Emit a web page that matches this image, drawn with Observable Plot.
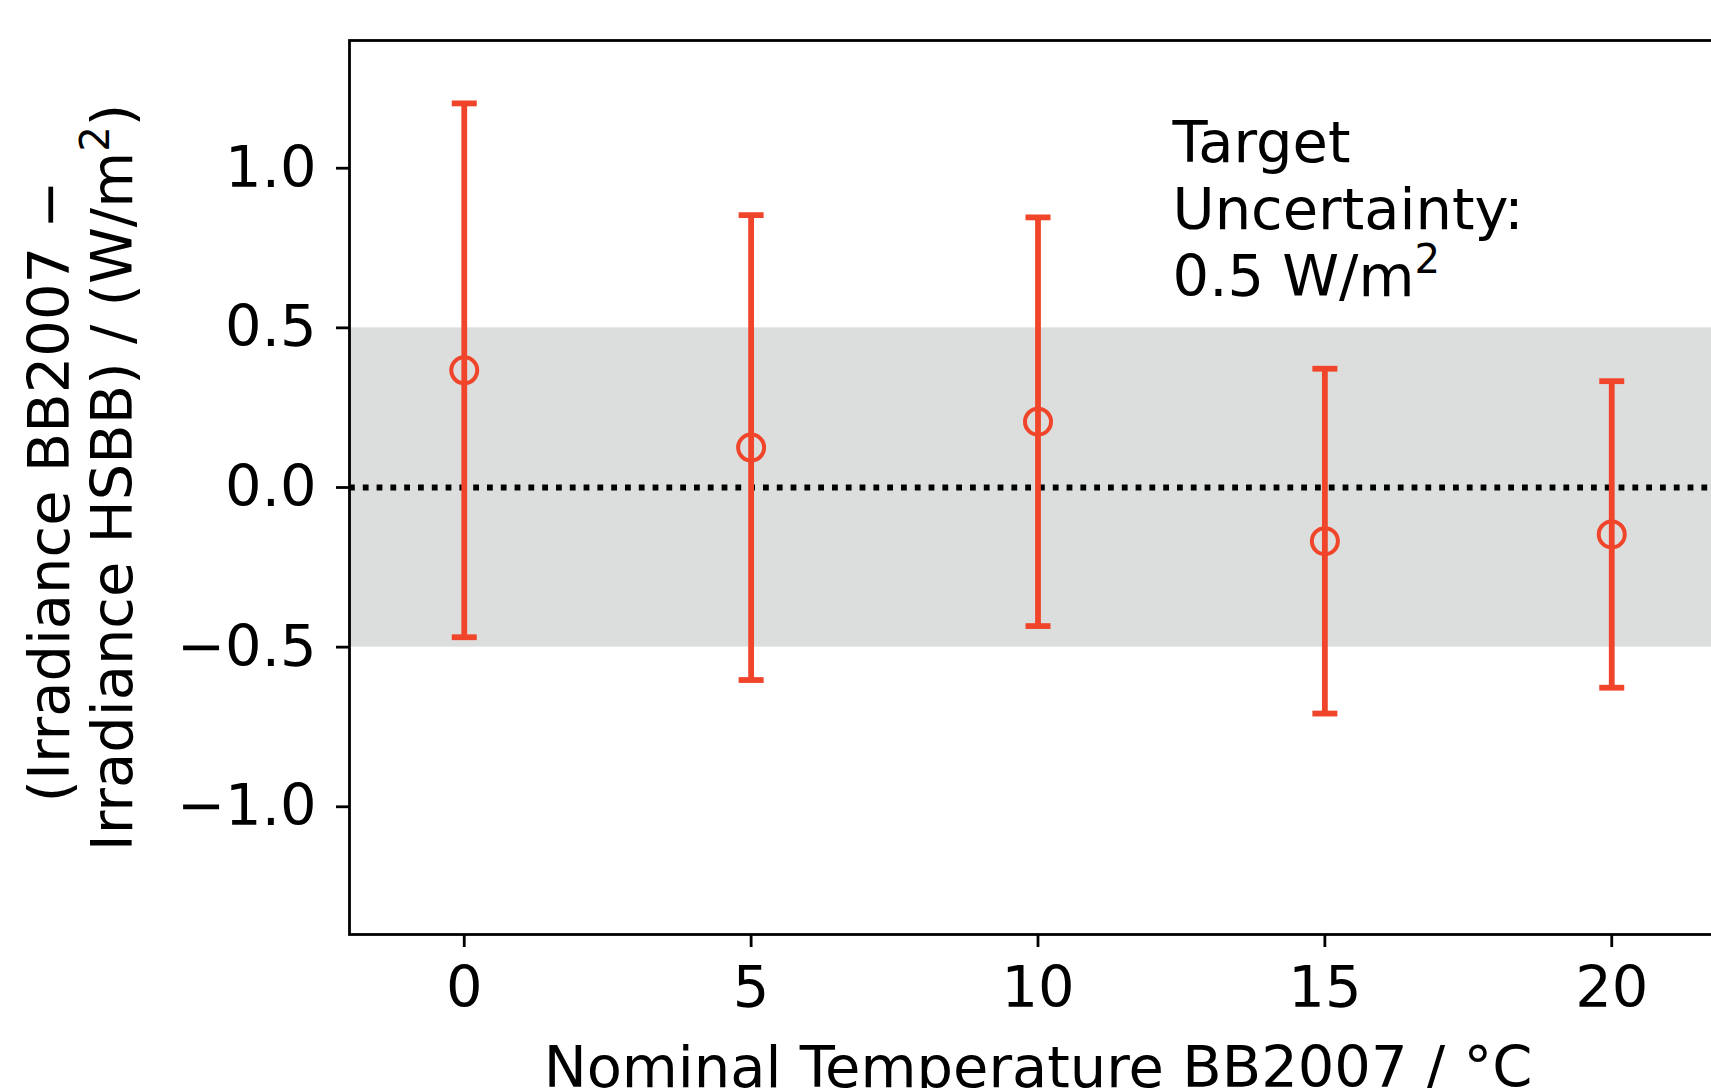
<!DOCTYPE html>
<html>
<head>
<meta charset="utf-8">
<script src="https://cdn.jsdelivr.net/npm/d3@7"></script>
<script src="https://cdn.jsdelivr.net/npm/@observablehq/plot@0.6"></script>
<style>
  html, body { margin: 0; padding: 0; background: #ffffff; overflow: hidden; }
  #chart svg { display: block; overflow: hidden; }
</style>
</head>
<body>
<div id="chart"></div>
<script>
// ---- data ----
const temps = [0, 5, 10, 15, 20];
const diffs = [0.367, 0.125, 0.206, -0.168, -0.147];
const errs  = [0.836, 0.728, 0.640, 0.540, 0.480];

const xTicks = [0, 5, 10, 15, 20];
const yTicks = [-1.0, -0.5, 0.0, 0.5, 1.0];
const targetBand = [-0.5, 0.5];
const xDomain = [-2, 22];
const yDomain = [-1.4, 1.4];

const yLabelLines = ["(Irradiance BB2007 \u2212", "Irradiance HSBB) / (W/m\u00B2)"];
const xLabel = "Nominal Temperature BB2007 / \u00B0C";
const annotation = "Target\nUncertainty:\n0.5 W/m\u00B2";
const annotationPos = {x: 12.345, y: 1.168};

// ---- build ----
const red = "#f0452a";
const font = "DejaVu Sans, sans-serif";
const fs = 57.5;

const data = temps.map((t, i) => ({x: t, y: diffs[i], e: errs[i]}));
const caps = data.flatMap(d => [{x: d.x, y: d.y + d.e}, {x: d.x, y: d.y - d.e}]);

const capSymbol = {
  draw(ctx) { ctx.moveTo(-12.5, 0); ctx.lineTo(12.5, 0); }
};

const fmt = d => (d < 0 ? "\u2212" : "") + Math.abs(d).toFixed(1);

const chart = Plot.plot({
  width: 1711,
  height: 1088,
  marginLeft: 349,
  marginRight: -15,
  marginTop: 40,
  marginBottom: 154,
  style: {fontFamily: font, background: "#ffffff", color: "#000000"},
  x: {domain: xDomain},
  y: {domain: yDomain},
  marks: [
    Plot.rect([targetBand], {
      x1: () => xDomain[0], x2: () => xDomain[1],
      y1: d => d[0], y2: d => d[1],
      fill: "#dcdedd"
    }),
    Plot.ruleY([0], {stroke: "#000000", strokeWidth: 5.8, strokeDasharray: "5.8 8"}),
    Plot.ruleX(data, {x: "x", y1: d => d.y - d.e, y2: d => d.y + d.e, stroke: red, strokeWidth: 5.8}),
    Plot.dot(caps, {x: "x", y: "y", symbol: capSymbol, r: 5, stroke: red, strokeWidth: 5.8, fill: "none"}),
    Plot.dot(data, {x: "x", y: "y", r: 13, stroke: red, strokeWidth: 4, fill: "none"}),
    Plot.frame({stroke: "#000000", strokeWidth: 2.8}),
    Plot.axisY({ticks: yTicks, tickFormat: fmt, tickSize: 13, tickPadding: 20, fontSize: fs, strokeWidth: 2.8, label: null}),
    Plot.axisX({ticks: xTicks, tickFormat: d => String(d), tickSize: 13, tickPadding: 19, fontSize: fs, strokeWidth: 2.8, label: null}),
    Plot.text([yLabelLines[0]], {frameAnchor: "left", dx: -280.5, dy: 4, rotate: -90, lineAnchor: "bottom", textAnchor: "middle", fontSize: fs, fill: "#000000"}),
    Plot.text([yLabelLines[1]], {frameAnchor: "left", dx: -217.5, dy: -10, rotate: -90, lineAnchor: "bottom", textAnchor: "middle", fontSize: fs, fill: "#000000"}),
    Plot.text([xLabel], {frameAnchor: "bottom", dy: 152, lineAnchor: "bottom", textAnchor: "middle", fontSize: fs, fill: "#000000"}),
    Plot.text([annotation], {x: () => annotationPos.x, y: () => annotationPos.y, textAnchor: "start", lineAnchor: "top", lineHeight: 1.165, fontSize: fs, fill: "#000000"})
  ]
});

// render "²" as a mathtext-like superscript
const SUP = "\u00B2";
const supSize = fs * 0.7;
const supRaise = 23;
function superscriptify(el) {
  const parts = el.textContent.split(SUP);
  el.textContent = "";
  parts.forEach((p, i) => {
    if (i === 0) {
      if (p.length) el.appendChild(document.createTextNode(p));
    } else {
      const s = document.createElementNS("http://www.w3.org/2000/svg", "tspan");
      s.setAttribute("font-size", supSize);
      s.setAttribute("dy", -supRaise);
      s.textContent = "2";
      el.appendChild(s);
      if (p.length) {
        const r = document.createElementNS("http://www.w3.org/2000/svg", "tspan");
        r.setAttribute("dy", supRaise);
        r.textContent = p;
        el.appendChild(r);
      }
    }
  });
}
chart.querySelectorAll("text, tspan").forEach(el => {
  if (el.children.length === 0 && el.textContent.includes(SUP)) superscriptify(el);
});

document.getElementById("chart").appendChild(chart);
</script>
</body>
</html>
